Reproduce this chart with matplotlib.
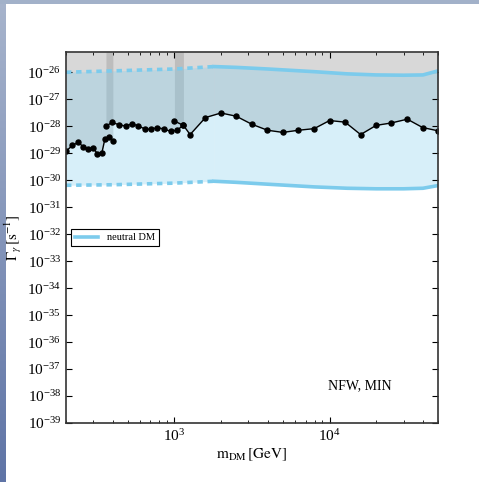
import numpy as np
import matplotlib
matplotlib.use("Agg")
import matplotlib.pyplot as plt
from matplotlib.ticker import LogLocator, NullLocator

plt.rcParams["font.family"] = ["Liberation Serif", "DejaVu Serif"]
plt.rcParams["mathtext.fontset"] = "stix"

# ── data (masses in GeV, rates as log10 Gamma [s^-1]) ─────────
m_seg1 = [200, 220, 240, 259, 279, 299, 319, 340, 356, 379, 401]
g_seg1 = [-28.93, -28.71, -28.60, -28.77, -28.84, -28.81, -29.02, -29.01,
          -28.48, -28.41, -28.56]

m_seg2 = [362, 396, 436, 485, 531, 586, 647, 711, 776, 859, 944, 1035, 1143]
g_seg2 = [-28.00, -27.86, -27.94, -28.00, -27.91, -27.99, -28.11, -28.11,
          -28.05, -28.11, -28.19, -28.15, -27.97]

m_seg3 = [1000, 1143, 1262, 1585, 1995, 2500, 3160, 3980, 5000, 6300, 7960,
          10000, 12600, 15850, 19950, 25000, 31700, 39800, 50000]
g_seg3 = [-27.81, -27.97, -28.31, -27.68, -27.51, -27.63, -27.93, -28.15,
          -28.23, -28.15, -28.09, -27.79, -27.85, -28.31, -27.97, -27.88,
          -27.74, -28.05, -28.17]

# neutral DM band: dashed part (extrapolated) and solid part
m_band_dash = [200, 400, 1000, 1800]
up_dash = [-26.00, -25.95, -25.88, -25.79]
lo_dash = [-30.19, -30.17, -30.11, -30.04]

m_band = [1800, 2500, 4000, 8000, 13000, 20000, 30000, 40000, 50000]
up_band = [-25.79, -25.82, -25.88, -25.98, -26.06, -26.10, -26.11, -26.10, -25.95]
lo_band = [-30.04, -30.08, -30.15, -30.25, -30.30, -30.32, -30.32, -30.30, -30.20]

YMIN, YMAX = 1e-39, 10**-25.25
SKY = "#7ccbec"

fig = plt.figure(figsize=(4.79, 4.82), dpi=100)

# slide-like gradient border on left and top
grad = np.linspace(0, 1, 256).reshape(-1, 1)
bl = fig.add_axes([0, 0, 6 / 479, 1])
bl.imshow(grad, aspect="auto", cmap=matplotlib.colors.LinearSegmentedColormap.from_list(
    "b", ["#a7b4cc", "#5f74a6"]), extent=[0, 1, 1, 0])
bl.axis("off")
bt = fig.add_axes([0, 1 - 4 / 482, 1, 4 / 482])
bt.set_facecolor("#a2b1c9")
bt.set_xticks([]); bt.set_yticks([])
for s in bt.spines.values():
    s.set_visible(False)

ax = fig.add_axes([66 / 479, 59 / 482, 372 / 479, 371 / 482])

# excluded region above each data segment
for m, g in [(m_seg1, g_seg1), (m_seg2, g_seg2), (m_seg3, g_seg3)]:
    ax.fill_between(m, 10 ** np.array(g), YMAX, color="gray", alpha=0.3, lw=0)

# neutral DM band
ax.fill_between(m_band_dash, 10 ** np.array(lo_dash), 10 ** np.array(up_dash),
                color=SKY, alpha=0.3, lw=0)
ax.fill_between(m_band, 10 ** np.array(lo_band), 10 ** np.array(up_band),
                color=SKY, alpha=0.3, lw=0)
for vals in (up_dash, lo_dash):
    ax.plot(m_band_dash, 10 ** np.array(vals), color=SKY, lw=2.6, ls=(0, (1.5, 1.3)))
ax.plot(m_band, 10 ** np.array(up_band), color=SKY, lw=2.6, label="neutral DM")
ax.plot(m_band, 10 ** np.array(lo_band), color=SKY, lw=2.6)

# limits
for m, g in [(m_seg1, g_seg1), (m_seg2, g_seg2), (m_seg3, g_seg3)]:
    ax.plot(m, 10 ** np.array(g), color="black", lw=1.0, marker="o", ms=3.6)

ax.set_xscale("log")
ax.set_yscale("log")
ax.set_xlim(200, 50000)
ax.set_ylim(YMIN, YMAX)
ax.yaxis.set_major_locator(LogLocator(base=10, numticks=30))
ax.yaxis.set_minor_locator(NullLocator())
ax.tick_params(which="both", direction="in", top=True, right=True, labelsize=11)
ax.tick_params(which="major", length=4)
ax.tick_params(which="minor", length=2)
for s in ax.spines.values():
    s.set_linewidth(1.2)
    s.set_color("#333333")

ax.set_xlabel(r"$\mathrm{m}_{\mathrm{DM}}\,[\mathrm{GeV}]$", fontsize=11, labelpad=2)
ax.set_ylabel(r"$\Gamma_{\gamma}\,[\mathrm{s}^{-1}]$", fontsize=11, labelpad=2)

leg = ax.legend(loc="center left", bbox_to_anchor=(0.0, 0.5), fontsize=7.5,
                fancybox=False, framealpha=1, edgecolor="black",
                handlelength=2.2, borderpad=0.4)
leg.get_frame().set_linewidth(0.8)

ax.text(0.79, 0.10, "NFW, MIN", transform=ax.transAxes, ha="center",
        va="center", fontsize=10)

fig.savefig("out.png", dpi=100)
